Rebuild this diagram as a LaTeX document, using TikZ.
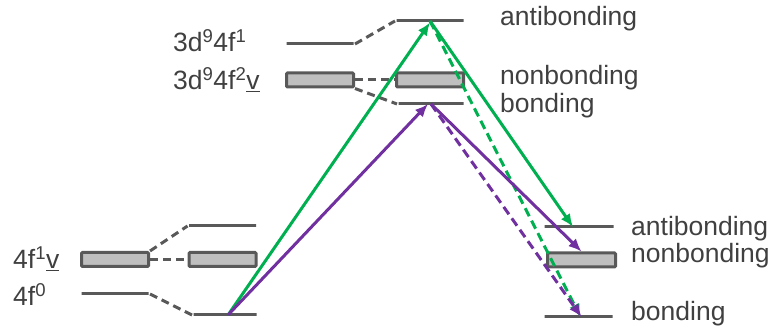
\documentclass[tikz,border=0pt]{standalone}
\usepackage{fontspec}
\setmainfont{Liberation Sans}
\usetikzlibrary{arrows.meta}
\definecolor{mygreen}{RGB}{0,176,80}
\definecolor{mypurple}{RGB}{112,48,160}
\definecolor{mygray}{RGB}{89,89,89}
\definecolor{myfill}{RGB}{191,191,191}
\definecolor{mytext}{RGB}{64,64,64}
\newcommand\mysize{\fontsize{26.5}{30}\selectfont}

\begin{document}
\begin{tikzpicture}[x=1pt,y=-1pt,
    level/.style={draw=mygray,line width=3pt,minimum width=67pt,
      minimum height=0pt,inner sep=0pt},
    band/.style={level,fill=myfill,minimum height=14pt,rounded corners=1pt},
    link/.style={draw=mygray,line width=3pt,dash pattern=on 8pt off 5pt},
    exc/.style={line width=3pt,-{Latex[length=13pt,width=11pt]}},
    lab/.style={anchor=base west,inner sep=0pt,text=mytext,font=\mysize}]
    \useasboundingbox (0,0) rectangle (771,328);

    % levels on the left
    \node[band]  (fv) at (115,259.5) {};
    \node[level] (f0) at (115,294) {};
    \node[level] (lA) at (222.5,226) {};
    \node[band]  (lN) at (222.5,259.5) {};
    \node[level,minimum width=63pt] (lB) at (225,315) {};

    % levels on top
    \node[level] (t1) at (320,44) {};
    \node[band]  (t2) at (320,80) {};
    \node[level] (tA) at (430,21) {};
    \node[band]  (tN) at (430,80) {};
    \node[level,minimum width=65pt] (tB) at (431,104) {};

    % levels on the right
    \node[level,minimum width=69pt] (rA) at (579,227) {};
    \node[band,minimum width=68pt]  (rN) at (581.5,260) {};
    \node[level,minimum width=68pt] (rB) at (578.5,317) {};

    \foreach \a/\b in {fv.north east/lA.west,fv.east/lN.west,
                       f0.east/lB.west,t1.east/tA.west,
                       t2.east/tN.west,t2.south east/tB.west}
    {
      \draw[link] (\a) -- (\b);
    }

    % labels
    \node[lab] (n4f1) at (13,269) {4f\textsuperscript{1}\underline{v}};
    \node[lab] (n4f0) at (13,306) {4f\textsuperscript{0}};
    \node[lab] (n3d1) at (173,52) {3d\textsuperscript{9}4f\textsuperscript{1}};
    \node[lab] (n3d2) at (173,90) {3d\textsuperscript{9}4f\textsuperscript{2}\underline{v}};
    \node[lab] (tAl) at (500,26) {antibonding};
    \node[lab] (tNl) at (500,85) {nonbonding};
    \node[lab] (tBl) at (500,113) {bonding};
    \node[lab] (rAl) at (631,236) {antibonding};
    \node[lab] (rNl) at (631,263) {nonbonding};
    \node[lab] (rBl) at (631,321) {bonding};

    % excitations
    \draw[exc,mygreen] ([xshift=3pt]lB.center) -- (tA.south);
    \draw[exc,mygreen] (tA.center) -- ([xshift=-6pt]rA.center);
    \draw[exc,mygreen,dash pattern=on 9pt off 5pt]
      (tA.center) -- ([xshift=2pt]rB.center);
    \draw[exc,mypurple] ([xshift=3pt]lB.center) -- ([xshift=-3pt]tB.center);
    \draw[exc,mypurple] (tB.center) -- (rN.north);
    \draw[exc,mypurple,dash pattern=on 9pt off 5pt]
      (tB.center) -- ([xshift=3pt]rB.center);
\end{tikzpicture}
\end{document}
